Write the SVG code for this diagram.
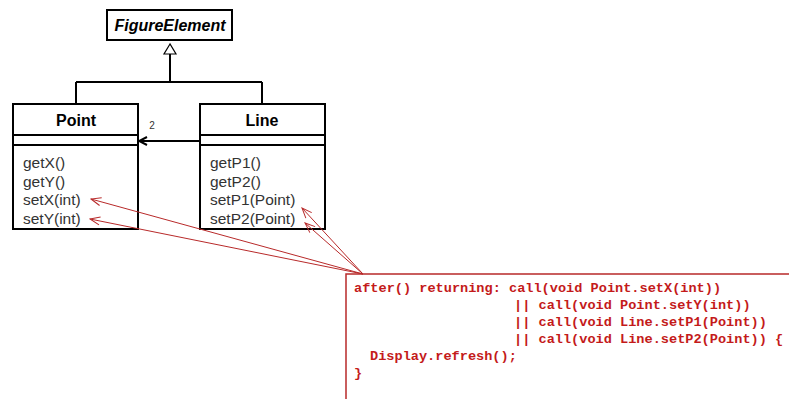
<svg xmlns="http://www.w3.org/2000/svg" width="789" height="399" viewBox="0 0 789 399">
<style>
.box{fill:#fff;stroke:#000;stroke-width:2}
.sep{stroke:#000;stroke-width:2}
.name{font-family:"Liberation Sans",Arial,sans-serif;font-weight:bold;font-size:16px;fill:#000;text-anchor:middle}
.meth{font-family:"Liberation Sans",Arial,sans-serif;font-size:15.5px;fill:#333}
.code{font-family:"Liberation Mono","Courier New",monospace;font-weight:bold;font-size:13.6px;fill:#c41a1a}
.rel{fill:none;stroke:#000;stroke-width:2}
.red{fill:none;stroke:#b82a2a;stroke-width:1}
</style>
<defs>
<marker id="open" viewBox="0 0 10 10" refX="9" refY="5" markerWidth="10" markerHeight="10" markerUnits="userSpaceOnUse" orient="auto">
<path d="M1,1 L9,5 L1,9" fill="none" stroke="#000" stroke-width="2"/>
</marker>
<marker id="redopen" viewBox="0 0 12 12" refX="11" refY="6" markerWidth="12" markerHeight="12" markerUnits="userSpaceOnUse" orient="auto">
<path d="M1,2 L11,6 L1,10" fill="none" stroke="#b82a2a" stroke-width="1"/>
</marker>
</defs>
<rect width="789" height="399" fill="#fff"/>
<g id="FigureElement">
<rect class="box" x="107" y="10" width="125" height="30"/>
<text class="name" x="170" y="31" font-style="italic">FigureElement</text>
</g>
<g id="Point">
<rect class="box" x="13" y="104" width="125" height="125"/>
<line class="sep" x1="13" y1="135" x2="138" y2="135"/>
<line class="sep" x1="13" y1="145" x2="138" y2="145"/>
<text class="name" x="76" y="126">Point</text>
<text class="meth" x="23" y="168">getX()</text>
<text class="meth" x="23" y="187">getY()</text>
<text class="meth" x="23" y="205">setX(int)</text>
<text class="meth" x="23" y="224">setY(int)</text>
</g>
<g id="Line">
<rect class="box" x="200" y="104" width="125" height="125"/>
<line class="sep" x1="200" y1="135" x2="325" y2="135"/>
<line class="sep" x1="200" y1="145" x2="325" y2="145"/>
<text class="name" x="262" y="126">Line</text>
<text class="meth" x="210" y="168">getP1()</text>
<text class="meth" x="210" y="187">getP2()</text>
<text class="meth" x="210" y="205">setP1(Point)</text>
<text class="meth" x="210" y="224">setP2(Point)</text>
</g>
<g id="note">
<rect x="346" y="274" width="460" height="140" fill="#fff" stroke="#b82a2a" stroke-width="1.5"/>
<text class="code" x="354" y="292">after() returning: call(void Point.setX(int))</text>
<text class="code" x="514" y="309">|| call(void Point.setY(int))</text>
<text class="code" x="514" y="326">|| call(void Line.setP1(Point))</text>
<text class="code" x="514" y="343">|| call(void Line.setP2(Point)) {</text>
<text class="code" x="370" y="360">Display.refresh();</text>
<text class="code" x="354" y="377">}</text>
</g>
<g id="connectors">
<path class="rel" d="M170,54 V82 M76,82 H262 M76,82 V104 M262,82 V104"/>
<polygon points="170,44 164,54 176,54" fill="#fff" stroke="#000" stroke-width="1.2"/>
<line class="rel" x1="200" y1="141" x2="139" y2="141" marker-end="url(#open)"/>
<text x="152" y="129" font-family="Liberation Sans,Arial,sans-serif" font-size="10" fill="#333" text-anchor="middle">2</text>
<line class="red" x1="363" y1="274" x2="91" y2="199" marker-end="url(#redopen)"/>
<line class="red" x1="363" y1="274" x2="90" y2="219" marker-end="url(#redopen)"/>
<line class="red" x1="363" y1="274" x2="302" y2="208" marker-end="url(#redopen)"/>
<line class="red" x1="363" y1="274" x2="305" y2="223" marker-end="url(#redopen)"/>
</g>
</svg>
